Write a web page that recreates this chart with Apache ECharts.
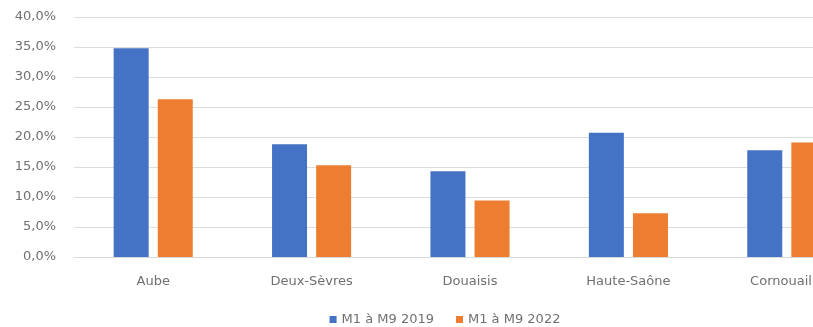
<!DOCTYPE html>
<html>
<head>
<meta charset="utf-8">
<script src="https://cdn.jsdelivr.net/npm/echarts@6/dist/echarts.min.js"></script>
<style>
  html, body { margin: 0; padding: 0; background: #fff; overflow: hidden; }
  #chart { width: 890px; height: 327px; }
</style>
</head>
<body>
<div id="chart"></div>
<script>
// Regions compared over two periods (share, in %)
const categories = ['Aube', 'Deux-Sèvres', 'Douaisis', 'Haute-Saône', 'Cornouaille'];
const seriesNames = ['M1 à M9 2019', 'M1 à M9 2022'];
const values2019 = [34.8, 18.8, 14.3, 20.7, 17.8];
const values2022 = [26.3, 15.3, 9.4, 7.3, 19.1];
const yTicks = { min: 0, max: 40, interval: 5 };

const textColor = '#707070';
const font = 'DejaVu Sans';

const chart = echarts.init(document.getElementById('chart'), null, { renderer: 'canvas' });
chart.setOption({
  animation: false,
  backgroundColor: '#ffffff',
  color: ['#4472C4', '#ED7D31'],
  grid: { left: 74, top: 17, right: 24, bottom: 70, containLabel: false },
  legend: {
    data: seriesNames,
    left: 'center',
    top: 308,
    icon: 'rect',
    itemWidth: 7,
    itemHeight: 7,
    itemGap: 22,
    textStyle: { color: textColor, fontFamily: font, fontSize: 13 }
  },
  xAxis: {
    type: 'category',
    data: categories,
    axisLine: { lineStyle: { color: '#d9d9d9', width: 1 } },
    axisTick: { show: false },
    axisLabel: { color: textColor, fontFamily: font, fontSize: 13, margin: 18 }
  },
  yAxis: {
    type: 'value',
    min: yTicks.min,
    max: yTicks.max,
    interval: yTicks.interval,
    axisLine: { show: false },
    axisTick: { show: false },
    splitLine: { lineStyle: { color: '#dcdcdc', width: 1 } },
    axisLabel: {
      color: textColor, fontFamily: font, fontSize: 13, margin: 18,
      formatter: v => v.toFixed(1).replace('.', ',') + '%'
    }
  },
  series: [
    { name: seriesNames[0], type: 'bar', data: values2019, barWidth: 35, barGap: '26%' },
    { name: seriesNames[1], type: 'bar', data: values2022, barWidth: 35, barGap: '26%' }
  ]
});
</script>
</body>
</html>
